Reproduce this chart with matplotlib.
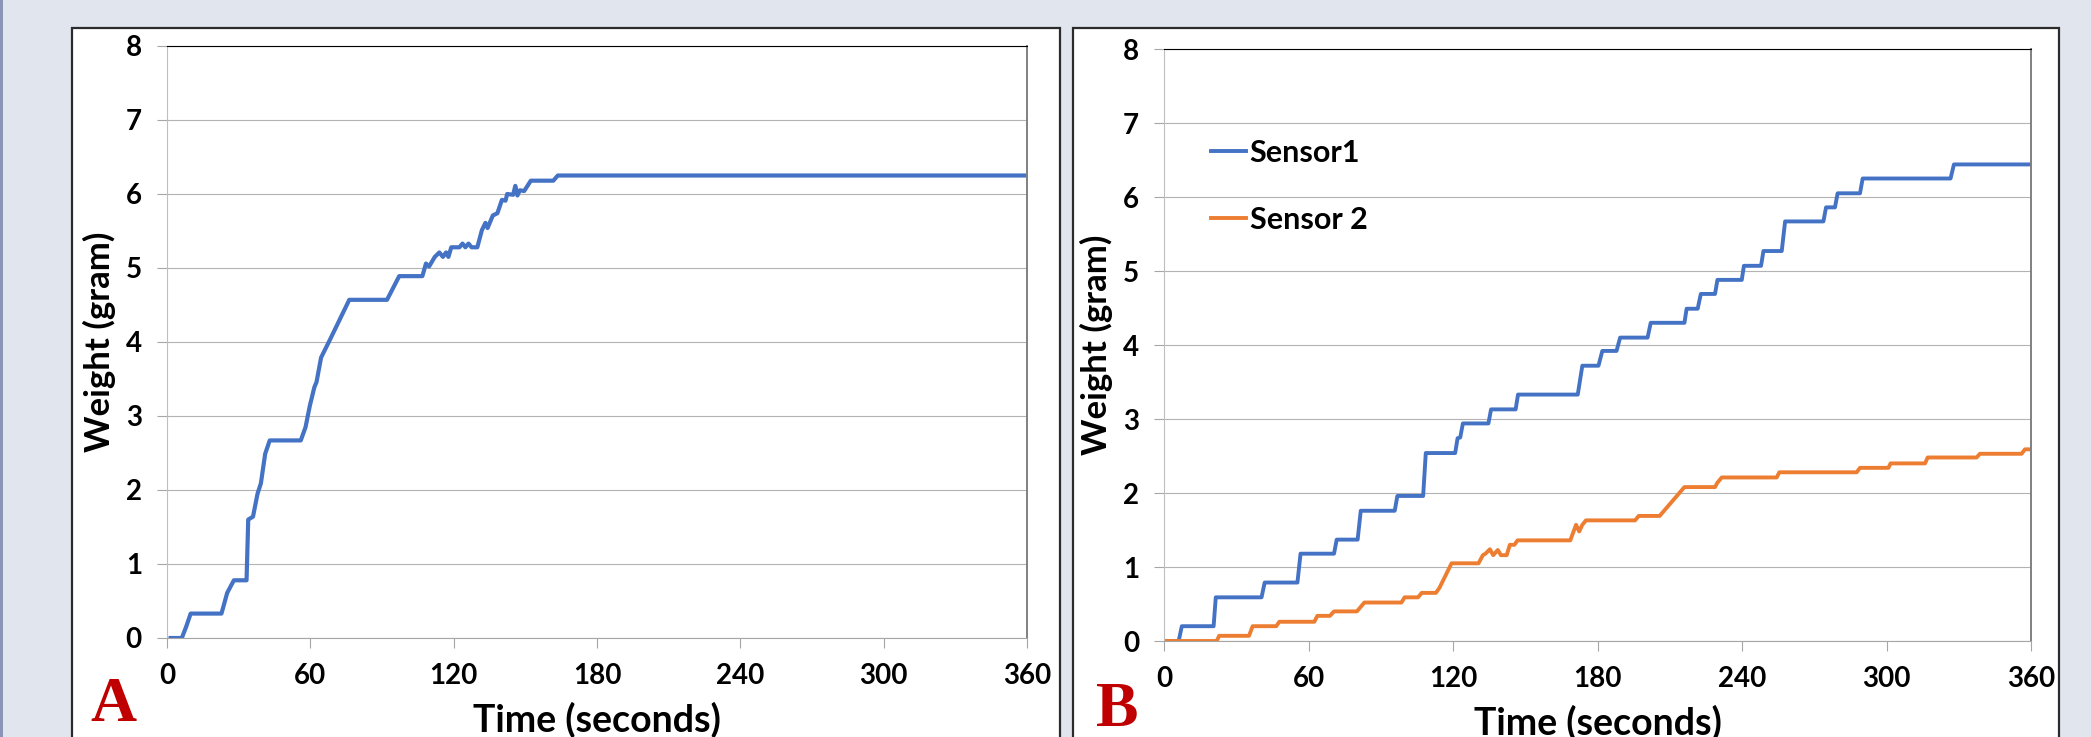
import matplotlib
matplotlib.use('Agg')
import matplotlib.pyplot as plt
from matplotlib.patches import Rectangle

plt.rcParams['font.family'] = ['Lato', 'DejaVu Sans']

# panel A - single sensor
time_a = [1.5, 6.2, 8.0, 9.9, 22.8, 25.2, 28, 33.3, 34, 36, 37.9, 39.3, 41.1, 43, 56, 58, 59.8,
          61.7, 62.6, 64.5, 68.2, 76.3, 92.1, 97.2, 106.9, 108.4, 109.7, 112.1, 114, 115.5,
          116.8, 117.8, 119, 122.4, 123.7, 124.9, 126.2, 127.5, 129.9, 131.8, 133.3, 134.2,
          136.4, 138.3, 140.2, 141.7, 142.4, 144.9, 145.8, 146.7, 147.7, 149.5, 152.3, 161.7,
          163.6, 360]
weight_a = [0, 0, 0.15, 0.33, 0.33, 0.61, 0.78, 0.78, 1.6, 1.64, 1.95, 2.09, 2.49, 2.67, 2.67,
            2.85, 3.14, 3.39, 3.46, 3.79, 4.03, 4.57, 4.57, 4.89, 4.89, 5.06, 5.02, 5.15, 5.21,
            5.15, 5.21, 5.15, 5.28, 5.28, 5.33, 5.28, 5.33, 5.28, 5.28, 5.51, 5.61, 5.54, 5.71,
            5.74, 5.92, 5.91, 6.0, 5.99, 6.11, 5.98, 6.05, 6.04, 6.18, 6.18, 6.25, 6.25]

# panel B - two sensors
time_s1 = [0.6, 6.1, 7.4, 20.6, 21.5, 40.5, 41.8, 55.4, 56.7, 70.6, 71.7, 80.4, 81.7, 95.8, 96.9,
           107.6, 108.7, 120.9, 121.9, 123, 124.1, 134.7, 135.8, 146, 147, 171.8, 173.7, 180.4,
           182, 187.9, 189.4, 200.8, 202.1, 216.1, 217, 221.6, 222.9, 228.8, 229.8, 239.9, 240.8,
           247.9, 248.9, 256.5, 257.9, 273.8, 274.9, 278.6, 279.7, 289, 290.1, 326.6, 328, 360]
weight_s1 = [0, 0, 0.2, 0.2, 0.59, 0.59, 0.79, 0.79, 1.18, 1.18, 1.37, 1.37, 1.76, 1.76, 1.96,
             1.96, 2.54, 2.54, 2.74, 2.75, 2.94, 2.94, 3.13, 3.13, 3.33, 3.33, 3.72, 3.72, 3.92,
             3.92, 4.1, 4.1, 4.3, 4.3, 4.49, 4.49, 4.69, 4.69, 4.88, 4.88, 5.07, 5.07, 5.27, 5.27,
             5.67, 5.67, 5.86, 5.86, 6.05, 6.05, 6.25, 6.25, 6.44, 6.44]

time_s2 = [0.6, 21.9, 22.9, 35.3, 36.8, 46.6, 47.9, 62.4, 63.7, 68.9, 70.6, 80.1, 83.2, 98.6, 99.9,
           105.5, 107, 112.9, 114.4, 119.4, 130.6, 132.4, 133.5, 135.3, 136.7, 138.6, 139.9,
           142.3, 143.6, 145.5, 146.8, 168.7, 171.1, 172.4, 173.7, 175.2, 195.6, 197.1, 205.8,
           216.1, 228.8, 229.8, 231.6, 254.4, 255.5, 287.6, 289, 300.8, 301.7, 316, 317.1, 337.4,
           338.8, 356.1, 357.5, 360]
weight_s2 = [0, 0, 0.07, 0.07, 0.2, 0.2, 0.26, 0.26, 0.34, 0.34, 0.4, 0.4, 0.52, 0.52, 0.59,
             0.59, 0.65, 0.65, 0.72, 1.05, 1.05, 1.16, 1.18, 1.24, 1.16, 1.23, 1.16, 1.16, 1.3,
             1.3, 1.36, 1.36, 1.57, 1.48, 1.57, 1.63, 1.63, 1.69, 1.69, 2.08, 2.08, 2.14, 2.21,
             2.21, 2.28, 2.28, 2.34, 2.34, 2.4, 2.4, 2.48, 2.48, 2.53, 2.53, 2.59, 2.59]

x_ticks = [0, 60, 120, 180, 240, 300, 360]
y_ticks = [0, 1, 2, 3, 4, 5, 6, 7, 8]

W, H = 2091, 737
fig = plt.figure(figsize=(W / 100, H / 100), dpi=100)
fig.patch.set_facecolor('#e1e5ee')


def px_box(x0, y0, x1, y1):
    # pixel box (top-left origin) -> figure fraction
    return [x0 / W, 1 - y1 / H, (x1 - x0) / W, (y1 - y0) / H]


# thin dark stripe at the far left and the two white panels (behind the axes)
fig.add_artist(Rectangle((0, 0), 2.5 / W, 1, transform=fig.transFigure,
                         facecolor='#8a94b6', edgecolor='none', zorder=-2))
for x0, x1 in [(72, 1060), (1073, 2059)]:
    fig.add_artist(Rectangle((x0 / W, -0.05), (x1 - x0) / W, 1 - 27.5 / H + 0.05,
                             transform=fig.transFigure, facecolor='white',
                             edgecolor='#2b2b2b', linewidth=1.6, zorder=-2))

ax1 = fig.add_axes(px_box(167, 46, 1027, 638))
ax2 = fig.add_axes(px_box(1164, 49, 2031, 641))

ax1.plot(time_a, weight_a, color='#4472c4', linewidth=3.0, solid_joinstyle='round')
ax2.plot(time_s1, weight_s1, color='#4472c4', linewidth=2.8, label='Sensor1',
         solid_joinstyle='round')
ax2.plot(time_s2, weight_s2, color='#ed7d31', linewidth=2.8, label='Sensor 2',
         solid_joinstyle='round')

for ax in [ax1, ax2]:
    ax.set_xlim(0, 360)
    ax.set_ylim(0, 8)
    ax.set_xticks(x_ticks)
    ax.set_yticks(y_ticks)
    ax.grid(axis='y', color='#b3b3b3', linewidth=0.8)
    ax.set_axisbelow(True)
    ax.tick_params(axis='both', length=7, width=0.8, color='#a6a6a6',
                   labelsize=20, pad=11)
    for lab in ax.get_xticklabels() + ax.get_yticklabels():
        lab.set_fontweight('bold')
    ax.spines['left'].set_color('#bfbfbf')
    ax.spines['bottom'].set_color('#a6a6a6')
    ax.spines['top'].set_color('#000000')
    ax.spines['right'].set_color('#808080')
    ax.spines['right'].set_linewidth(1.4)
    for s in ['left', 'bottom', 'top']:
        ax.spines[s].set_linewidth(0.8)
    ax.set_xlabel('Time (seconds)', fontsize=27, fontweight='bold')
    ax.set_ylabel('Weight (gram)', fontsize=25, fontweight='bold')
    ax.xaxis.set_label_coords(0.5, -0.108)
    ax.yaxis.label.set_va('center')
    ax.yaxis.set_label_coords(-0.078, 0.5)

ax2.legend(loc='upper left', bbox_to_anchor=(0.054, 0.848), frameon=False,
           prop={'size': 22, 'weight': 'bold'}, handlelength=1.15, handletextpad=0.12,
           labelspacing=1.27, borderpad=0, borderaxespad=0)

# panel letters
fig.text(113 / W, 1 - 706 / H, 'A', color='#c00000', fontsize=46, fontweight='bold',
         family='Liberation Serif', ha='center', va='center')
fig.text(1117 / W, 1 - 711 / H, 'B', color='#c00000', fontsize=46, fontweight='bold',
         family='Liberation Serif', ha='center', va='center')

fig.savefig('out.png', dpi=100, facecolor=fig.get_facecolor())
